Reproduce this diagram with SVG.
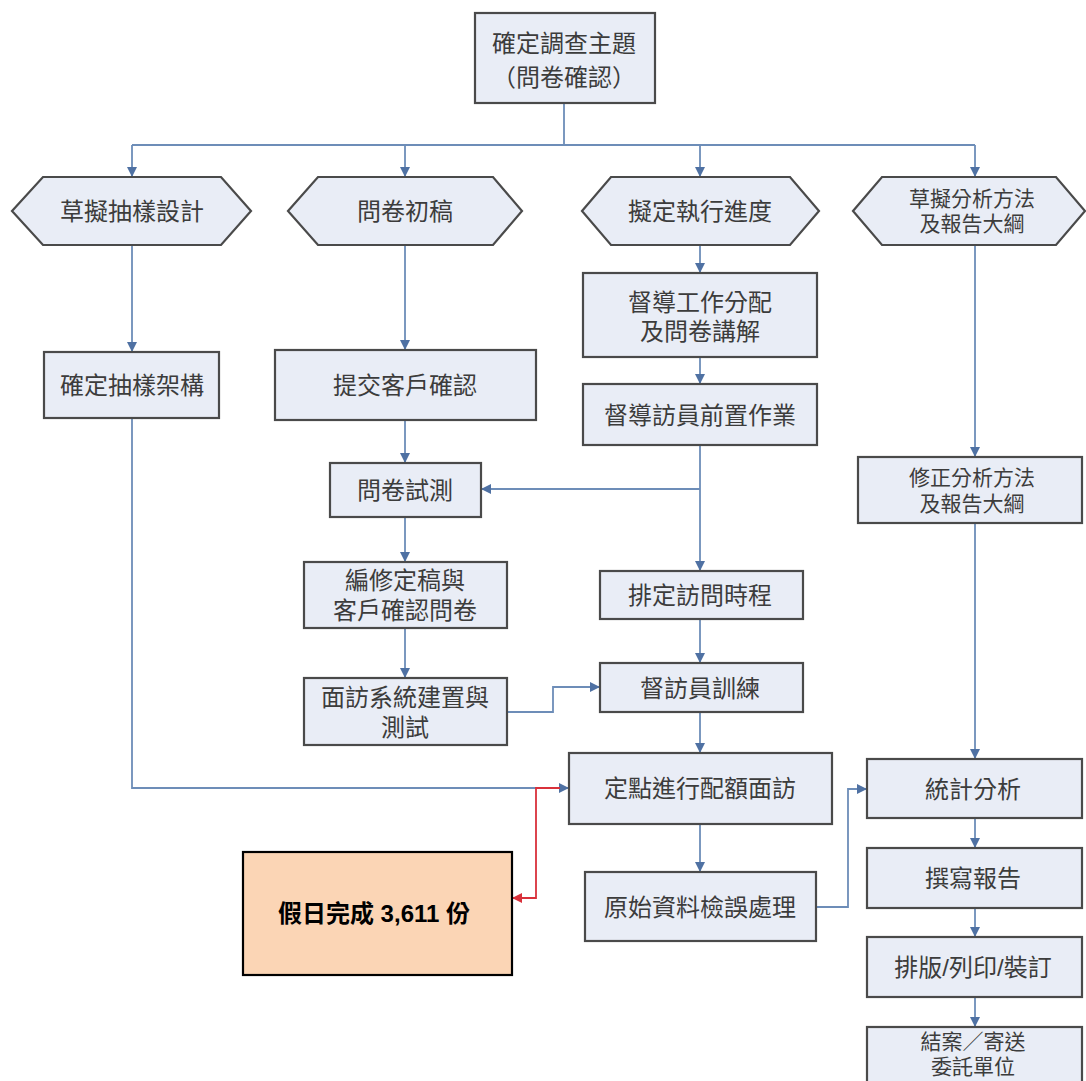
<svg xmlns="http://www.w3.org/2000/svg" width="1086" height="1081" viewBox="0 0 1086 1081">
<style>
.box{fill:#E9EDF6;stroke:#4A4A4A;stroke-width:2.2}
.hex{fill:#E9EDF6;stroke:#4A4A4A;stroke-width:2.2}
.t{font-family:"Liberation Sans","Noto Sans CJK TC","Noto Sans CJK SC",sans-serif;font-size:24px;fill:#3C3C3C;text-anchor:middle;dominant-baseline:central}
.t2{font-family:"Liberation Sans","Noto Sans CJK TC","Noto Sans CJK SC",sans-serif;font-size:21px;fill:#3C3C3C;text-anchor:middle;dominant-baseline:central}
.c{fill:none;stroke:#6D8DB8;stroke-width:1.8}
.r{fill:none;stroke:#D9313B;stroke-width:1.8}
.b{font-family:"Liberation Sans","Noto Sans CJK TC","Noto Sans CJK SC",sans-serif;font-size:24px;font-weight:bold;fill:#000;text-anchor:middle;dominant-baseline:central}
</style>
<defs>
<marker id="a" markerUnits="userSpaceOnUse" markerWidth="10" markerHeight="10" refX="10" refY="5" orient="auto"><path d="M0,0 L10,5 L0,10 z" fill="#4F71A3"/></marker>
<marker id="ar" markerUnits="userSpaceOnUse" markerWidth="10" markerHeight="10" refX="10" refY="5" orient="auto"><path d="M0,0 L10,5 L0,10 z" fill="#D9313B"/></marker>
</defs>
<rect width="1086" height="1081" fill="#FFFFFF"/>
<g id="connectors">
<path class="c" d="M564,103 V145"/>
<path class="c" d="M132,145 H975"/>
<path class="c" d="M132,145 V177" marker-end="url(#a)"/>
<path class="c" d="M405,145 V177" marker-end="url(#a)"/>
<path class="c" d="M700,145 V177" marker-end="url(#a)"/>
<path class="c" d="M975,145 V177" marker-end="url(#a)"/>
<path class="c" d="M132,245 V352" marker-end="url(#a)"/>
<path class="c" d="M132,418 V788 H569" marker-end="url(#a)"/>
<path class="c" d="M405,245 V350" marker-end="url(#a)"/>
<path class="c" d="M405,420 V463" marker-end="url(#a)"/>
<path class="c" d="M405,517 V562" marker-end="url(#a)"/>
<path class="c" d="M405,628 V678" marker-end="url(#a)"/>
<path class="c" d="M507,712 H553 V687 H600" marker-end="url(#a)"/>
<path class="c" d="M700,245 V273" marker-end="url(#a)"/>
<path class="c" d="M700,357 V384" marker-end="url(#a)"/>
<path class="c" d="M700,445 V571" marker-end="url(#a)"/>
<path class="c" d="M700,489 H481" marker-end="url(#a)"/>
<path class="c" d="M700,619 V663" marker-end="url(#a)"/>
<path class="c" d="M700,712 V753" marker-end="url(#a)"/>
<path class="c" d="M700,824 V872" marker-end="url(#a)"/>
<path class="c" d="M816,907 H848 V789 H867" marker-end="url(#a)"/>
<path class="c" d="M975,245 V457" marker-end="url(#a)"/>
<path class="c" d="M975,523 V759" marker-end="url(#a)"/>
<path class="c" d="M975,818 V848" marker-end="url(#a)"/>
<path class="c" d="M975,908 V937" marker-end="url(#a)"/>
<path class="c" d="M975,997 V1027" marker-end="url(#a)"/>
<path class="r" d="M560,788 H536 V898 H512" marker-end="url(#ar)"/>
</g>
<g id="n-topic"><rect class="box" x="475" y="13" width="180" height="90"/><text class="t" x="564" y="43">確定調查主題<tspan x="564" dy="34">（問卷確認）</tspan></text></g>
<g id="n-sampling"><polygon class="hex" points="12,211 43,177 221,177 251,211 221,245 43,245"/><text class="t" x="132" y="211">草擬抽樣設計</text></g>
<g id="n-draft"><polygon class="hex" points="288,211 318,177 493,177 522,211 493,245 318,245"/><text class="t" x="405" y="211">問卷初稿</text></g>
<g id="n-schedule"><polygon class="hex" points="582,211 611,177 790,177 819,211 790,245 611,245"/><text class="t" x="700" y="211">擬定執行進度</text></g>
<g id="n-analysis"><polygon class="hex" points="853,211 882,177 1056,177 1085,211 1056,245 882,245"/><text class="t2" x="972" y="198">草擬分析方法<tspan x="972" dy="25">及報告大綱</tspan></text></g>
<g id="n-frame"><rect class="box" x="44" y="352" width="175" height="66"/><text class="t" x="132" y="385">確定抽樣架構</text></g>
<g id="n-submit"><rect class="box" x="275" y="350" width="261" height="70"/><text class="t" x="405" y="385">提交客戶確認</text></g>
<g id="n-pretest"><rect class="box" x="330" y="463" width="151" height="54"/><text class="t" x="405" y="490">問卷試測</text></g>
<g id="n-finalize"><rect class="box" x="304" y="562" width="203" height="66"/><text class="t" x="405" y="580">編修定稿與<tspan x="405" dy="30">客戶確認問卷</tspan></text></g>
<g id="n-system"><rect class="box" x="304" y="678" width="203" height="67"/><text class="t" x="405" y="697">面訪系統建置與<tspan x="405" dy="30">測試</tspan></text></g>
<g id="n-assign"><rect class="box" x="583" y="273" width="234" height="84"/><text class="t" x="700" y="302">督導工作分配<tspan x="700" dy="29">及問卷講解</tspan></text></g>
<g id="n-prep"><rect class="box" x="583" y="384" width="234" height="61"/><text class="t" x="700" y="415">督導訪員前置作業</text></g>
<g id="n-timetable"><rect class="box" x="600" y="571" width="203" height="48"/><text class="t" x="700" y="595">排定訪問時程</text></g>
<g id="n-training"><rect class="box" x="600" y="663" width="203" height="49"/><text class="t" x="700" y="688">督訪員訓練</text></g>
<g id="n-interview"><rect class="box" x="569" y="753" width="263" height="71"/><text class="t" x="700" y="788">定點進行配額面訪</text></g>
<g id="n-holiday"><rect x="243" y="852" width="269" height="123" fill="#FBD5B5" stroke="#000" stroke-width="2.2"/><text class="b" x="374" y="913">假日完成 3,611 份</text></g>
<g id="n-check"><rect class="box" x="585" y="872" width="231" height="69"/><text class="t" x="700" y="907">原始資料檢誤處理</text></g>
<g id="n-revise"><rect class="box" x="858" y="457" width="224" height="66"/><text class="t2" x="972" y="477">修正分析方法<tspan x="972" dy="26">及報告大綱</tspan></text></g>
<g id="n-stats"><rect class="box" x="867" y="759" width="215" height="59"/><text class="t" x="973" y="789">統計分析</text></g>
<g id="n-report"><rect class="box" x="867" y="848" width="215" height="60"/><text class="t" x="973" y="878">撰寫報告</text></g>
<g id="n-print"><rect class="box" x="867" y="937" width="215" height="60"/><text class="t" x="973" y="967">排版/列印/裝訂</text></g>
<g id="n-close"><rect class="box" x="867" y="1027" width="215" height="64"/><text class="t2" x="973" y="1041">結案／寄送<tspan x="973" dy="25">委託單位</tspan></text></g>
</svg>
